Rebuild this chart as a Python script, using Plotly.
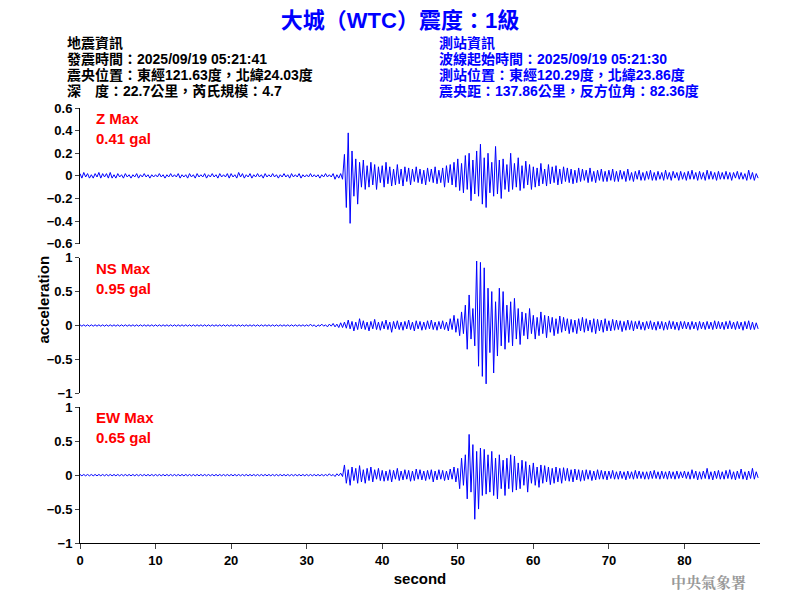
import plotly.graph_objects as go
from plotly.subplots import make_subplots

# sampled every 0.25 s, values in gal read from the record (one row = 5 s)
dt = 0.25
z_acc = [
    0.02,-0.02,0.03,-0.01,0.02,-0.02,0.01,-0.02,0.02,-0.01,0.03,-0.02,0.02,-0.01,0.02,-0.02,0.03,-0.02,0.01,-0.02,
    0.02,-0.01,0.01,-0.02,0.02,-0.01,0.01,-0.02,0.01,-0.01,0.02,-0.02,0.01,-0.01,0.02,-0.01,0.01,-0.02,0.01,-0.01,
    0.01,-0.01,0.02,-0.01,0.01,-0.02,0.01,-0.01,0.02,-0.01,0.01,-0.01,0.02,-0.02,0.01,-0.01,0.01,-0.02,0.02,-0.01,
    0.01,-0.02,0.02,-0.01,0.01,-0.01,0.02,-0.02,0.01,-0.01,0.02,-0.01,0.01,-0.02,0.02,-0.01,0.01,-0.01,0.02,-0.02,
    0.02,-0.01,0.01,-0.02,0.03,-0.01,0.02,-0.02,0.01,-0.01,0.02,-0.02,0.01,-0.01,0.02,-0.01,0.01,-0.02,0.02,-0.01,
    0.01,-0.01,0.02,-0.01,0.01,-0.02,0.01,-0.01,0.02,-0.01,0.01,-0.02,0.02,-0.01,0.01,-0.01,0.02,-0.02,0.01,-0.01,
    0.01,-0.01,0.02,-0.01,0.01,-0.01,0.01,-0.02,0.01,-0.01,0.02,-0.01,0.01,-0.01,0.02,-0.03,0.01,-0.02,0.02,-0.03,
    0.19,-0.28,0.38,-0.42,0.22,-0.18,0.15,-0.25,0.12,-0.1,0.14,-0.12,0.09,-0.1,0.12,-0.08,0.1,-0.12,0.08,-0.06,
    0.09,-0.1,0.12,-0.07,0.08,-0.09,0.06,-0.08,0.1,-0.07,0.06,-0.09,0.08,-0.05,0.07,-0.08,0.06,-0.05,0.08,-0.06,
    0.06,-0.07,0.05,-0.08,0.07,-0.05,0.06,-0.06,0.08,-0.07,0.05,-0.06,0.07,-0.1,0.09,-0.06,0.1,-0.08,0.12,-0.1,
    0.15,-0.13,0.11,-0.15,0.18,-0.12,0.2,-0.22,0.14,-0.16,0.22,-0.18,0.28,-0.25,0.16,-0.28,0.2,-0.15,0.12,-0.18,
    0.26,-0.16,0.14,-0.2,0.15,-0.12,0.1,-0.14,0.2,-0.12,0.11,-0.1,0.16,-0.13,0.09,-0.11,0.13,-0.08,0.1,-0.12,
    0.08,-0.1,0.07,-0.09,0.11,-0.07,0.06,-0.09,0.1,-0.07,0.08,-0.06,0.09,-0.08,0.06,-0.07,0.08,-0.05,0.07,-0.06,
    0.06,-0.07,0.05,-0.06,0.07,-0.05,0.06,-0.04,0.05,-0.06,0.07,-0.05,0.04,-0.06,0.05,-0.04,0.06,-0.05,0.04,-0.05,
    0.05,-0.04,0.06,-0.05,0.04,-0.05,0.05,-0.03,0.04,-0.05,0.06,-0.04,0.03,-0.05,0.04,-0.03,0.05,-0.04,0.03,-0.04,
    0.04,-0.03,0.05,-0.04,0.03,-0.04,0.04,-0.03,0.03,-0.04,0.05,-0.03,0.03,-0.04,0.04,-0.02,0.03,-0.04,0.04,-0.03,
    0.03,-0.04,0.04,-0.03,0.05,-0.03,0.03,-0.04,0.04,-0.03,0.03,-0.04,0.05,-0.03,0.04,-0.03,0.03,-0.04,0.04,-0.03,
    0.03,-0.03,0.04,-0.03,0.03,-0.04,0.03,-0.02,0.04,-0.03,0.03,-0.03,0.02,-0.04,0.05,-0.03,0.03,-0.04,0.02,-0.02,
]
ns_acc = [
    0.01,-0.01,0.01,-0.01,0.01,-0.01,0.01,-0.01,0.01,-0.01,0.01,-0.01,0.01,-0.01,0.01,-0.01,0.01,-0.01,0.01,-0.01,
    0.01,-0.01,0.01,-0.01,0.01,-0.01,0.01,-0.01,0.01,-0.01,0.01,-0.01,0.01,-0.01,0.01,-0.01,0.01,-0.01,0.01,-0.01,
    0.01,-0.01,0.01,-0.01,0.01,-0.01,0.01,-0.01,0.01,-0.01,0.01,-0.01,0.01,-0.01,0.01,-0.01,0.01,-0.01,0.01,-0.01,
    0.01,-0.01,0.01,-0.01,0.01,-0.01,0.01,-0.01,0.01,-0.01,0.01,-0.01,0.01,-0.01,0.01,-0.01,0.01,-0.01,0.01,-0.01,
    0.01,-0.01,0.01,-0.01,0.01,-0.01,0.01,-0.01,0.01,-0.01,0.01,-0.01,0.01,-0.01,0.01,-0.01,0.01,-0.01,0.01,-0.01,
    0.01,-0.01,0.01,-0.01,0.01,-0.01,0.01,-0.01,0.01,-0.01,0.01,-0.01,0.01,-0.01,0.01,-0.01,0.01,-0.01,0.01,-0.01,
    0.01,-0.01,0.02,-0.01,0.01,-0.02,0.01,-0.01,0.02,-0.01,0.01,-0.02,0.02,-0.01,0.03,-0.02,0.02,-0.03,0.04,-0.03,
    0.05,-0.04,0.08,-0.05,0.06,-0.08,0.05,-0.06,0.1,-0.05,0.07,-0.06,0.05,-0.08,0.06,-0.05,0.09,-0.06,0.05,-0.07,
    0.06,-0.05,0.08,-0.06,0.05,-0.1,0.06,-0.05,0.07,-0.06,0.05,-0.07,0.06,-0.05,0.08,-0.06,0.05,-0.08,0.07,-0.05,
    0.06,-0.07,0.05,-0.06,0.07,-0.05,0.08,-0.06,0.05,-0.07,0.06,-0.05,0.07,-0.06,0.05,-0.08,0.1,-0.06,0.15,-0.1,
    0.1,-0.15,0.2,-0.12,0.3,-0.35,0.45,-0.2,0.25,-0.3,0.95,-0.6,0.93,-0.75,0.85,-0.86,0.55,-0.4,0.5,-0.7,
    0.35,-0.45,0.55,-0.3,0.5,-0.35,0.3,-0.25,0.35,-0.3,0.4,-0.2,0.25,-0.28,0.2,-0.15,0.18,-0.2,0.25,-0.12,
    0.15,-0.2,0.12,-0.15,0.2,-0.12,0.15,-0.18,0.14,-0.1,0.12,-0.15,0.1,-0.12,0.14,-0.1,0.12,-0.08,0.1,-0.12,
    0.09,-0.1,0.08,-0.12,0.1,-0.08,0.12,-0.1,0.1,-0.08,0.08,-0.1,0.1,-0.12,0.09,-0.08,0.08,-0.1,0.1,-0.08,
    0.07,-0.08,0.09,-0.07,0.08,-0.06,0.07,-0.09,0.06,-0.07,0.08,-0.06,0.07,-0.08,0.06,-0.05,0.07,-0.06,0.05,-0.07,
    0.06,-0.05,0.07,-0.06,0.05,-0.07,0.06,-0.05,0.06,-0.07,0.05,-0.06,0.07,-0.05,0.06,-0.06,0.05,-0.07,0.06,-0.05,
    0.06,-0.05,0.05,-0.06,0.06,-0.05,0.05,-0.07,0.06,-0.05,0.05,-0.06,0.06,-0.05,0.05,-0.06,0.07,-0.05,0.06,-0.05,
    0.05,-0.06,0.06,-0.05,0.07,-0.05,0.05,-0.06,0.06,-0.05,0.05,-0.07,0.06,-0.05,0.07,-0.06,0.05,-0.06,0.04,-0.05,
]
ew_acc = [
    0.01,-0.01,0.01,-0.01,0.01,-0.01,0.01,-0.01,0.01,-0.01,0.01,-0.01,0.01,-0.01,0.01,-0.01,0.01,-0.01,0.01,-0.01,
    0.01,-0.01,0.01,-0.01,0.01,-0.01,0.01,-0.01,0.01,-0.01,0.01,-0.01,0.01,-0.01,0.01,-0.01,0.01,-0.01,0.01,-0.01,
    0.01,-0.01,0.01,-0.01,0.01,-0.01,0.01,-0.01,0.01,-0.01,0.01,-0.01,0.01,-0.01,0.01,-0.01,0.01,-0.01,0.01,-0.01,
    0.01,-0.01,0.01,-0.01,0.01,-0.01,0.01,-0.01,0.01,-0.01,0.01,-0.01,0.01,-0.01,0.01,-0.01,0.01,-0.01,0.01,-0.01,
    0.01,-0.01,0.01,-0.01,0.01,-0.01,0.01,-0.01,0.01,-0.01,0.01,-0.01,0.01,-0.01,0.01,-0.01,0.01,-0.01,0.01,-0.01,
    0.01,-0.01,0.01,-0.01,0.01,-0.01,0.01,-0.01,0.01,-0.01,0.01,-0.01,0.01,-0.01,0.01,-0.01,0.01,-0.01,0.01,-0.01,
    0.01,-0.01,0.01,-0.01,0.01,-0.01,0.01,-0.01,0.01,-0.01,0.01,-0.01,0.02,-0.01,0.01,-0.02,0.02,-0.01,0.03,-0.02,
    0.15,-0.12,0.08,-0.15,0.12,-0.08,0.1,-0.12,0.14,-0.1,0.08,-0.12,0.1,-0.08,0.12,-0.1,0.08,-0.06,0.1,-0.08,
    0.07,-0.09,0.06,-0.08,0.08,-0.1,0.07,-0.06,0.1,-0.08,0.06,-0.07,0.08,-0.06,0.07,-0.09,0.06,-0.08,0.09,-0.06,
    0.08,-0.07,0.06,-0.08,0.07,-0.06,0.08,-0.1,0.06,-0.07,0.08,-0.06,0.07,-0.08,0.06,-0.07,0.09,-0.06,0.12,-0.1,
    0.1,-0.2,0.25,-0.15,0.3,-0.35,0.6,-0.25,0.45,-0.65,0.35,-0.5,0.4,-0.3,0.38,-0.28,0.3,-0.25,0.35,-0.3,
    0.25,-0.35,0.3,-0.2,0.22,-0.3,0.25,-0.2,0.3,-0.25,0.28,-0.22,0.18,-0.2,0.22,-0.15,0.2,-0.25,0.15,-0.12,
    0.18,-0.15,0.12,-0.18,0.15,-0.12,0.14,-0.1,0.12,-0.14,0.1,-0.12,0.12,-0.1,0.1,-0.12,0.11,-0.08,0.1,-0.09,
    0.08,-0.1,0.09,-0.07,0.08,-0.09,0.07,-0.08,0.08,-0.06,0.07,-0.08,0.06,-0.07,0.08,-0.06,0.07,-0.06,0.06,-0.07,
    0.06,-0.05,0.07,-0.06,0.05,-0.06,0.06,-0.05,0.05,-0.07,0.06,-0.05,0.05,-0.06,0.07,-0.05,0.06,-0.05,0.05,-0.06,
    0.05,-0.06,0.06,-0.05,0.07,-0.05,0.05,-0.06,0.06,-0.05,0.05,-0.06,0.06,-0.05,0.05,-0.06,0.06,-0.05,0.05,-0.04,
    0.06,-0.05,0.05,-0.06,0.08,-0.05,0.06,-0.07,0.05,-0.06,0.06,-0.05,0.1,-0.06,0.05,-0.07,0.06,-0.05,0.07,-0.06,
    0.05,-0.06,0.07,-0.05,0.08,-0.06,0.05,-0.07,0.06,-0.05,0.09,-0.06,0.05,-0.07,0.06,-0.05,0.1,-0.06,0.05,-0.04,
]
t = [i * dt for i in range(len(z_acc))]

channels = ["Z", "NS", "EW"]
max_gal = ["0.41", "0.95", "0.65"]
y_ranges = [[-0.6, 0.6], [-1, 1], [-1, 1]]
y_ticks = [[-0.6, -0.4, -0.2, 0, 0.2, 0.4, 0.6], [-1, -0.5, 0, 0.5, 1], [-1, -0.5, 0, 0.5, 1]]

left_info = ["地震資訊", "發震時間：2025/09/19 05:21:41",
             "震央位置：東經121.63度，北緯24.03度", "深　度：22.7公里，芮氏規模：4.7"]
right_info = ["測站資訊", "波線起始時間：2025/09/19 05:21:30",
              "測站位置：東經120.29度，北緯23.86度", "震央距：137.86公里，反方位角：82.36度"]

# the page adds an 8px offset, so all pixel positions are shifted back by 8
OFF = 8
L, R, T, B = 80 - OFF, 760 - OFF, 108 - OFF, 543 - OFF

def px_x(x):
    return (x - OFF - L) / (R - L)

def px_y(y):
    return (B - (y - OFF)) / (B - T)

fig = make_subplots(rows=3, cols=1, shared_xaxes=True, vertical_spacing=0.032)
for i, acc in enumerate([z_acc, ns_acc, ew_acc]):
    fig.add_trace(go.Scatter(x=t, y=acc, mode="lines", line=dict(color="#0000ff", width=1),
                             showlegend=False), row=i + 1, col=1)
    fig.update_yaxes(range=y_ranges[i], tickvals=y_ticks[i], row=i + 1, col=1)
    yref = "y domain" if i == 0 else f"y{i + 1} domain"
    fig.add_annotation(x=0.02, y=1.0, xref="x domain", yref=yref, xanchor="left", yanchor="top",
                       text=f"<b>{channels[i]} Max<br>{max_gal[i]} gal</b>", showarrow=False, align="left",
                       font=dict(color="red", size=15))

fig.update_yaxes(showline=True, linecolor="black", linewidth=1, ticks="outside", ticklen=4,
                 showgrid=False, zeroline=False, automargin=False,
                 tickfont=dict(size=13, color="black", weight="bold"))
fig.update_xaxes(showgrid=False, zeroline=False, range=[0, 90], tickvals=list(range(0, 90, 10)),
                 showline=False, automargin=False)
fig.update_xaxes(showline=True, linecolor="black", ticks="outside", ticklen=5,
                 tickfont=dict(size=13, color="black", weight="bold"),
                 title=dict(text="<b>second</b>", font=dict(size=15), standoff=6),
                 row=3, col=1)

for k in range(4):
    for px, txt, col in [(65, left_info[k], "black"), (437, right_info[k], "#0000ff")]:
        fig.add_annotation(x=px_x(px), y=px_y(43 + 16 * k), xref="paper", yref="paper",
                           text=f"<b>{txt}</b>", showarrow=False, xanchor="left", yanchor="middle",
                           font=dict(size=14, color=col))

fig.add_annotation(x=px_x(32), y=px_y(300), xref="paper", yref="paper",
                   text="<b>acceleration</b>", textangle=-90, showarrow=False, font=dict(size=15))
fig.add_annotation(x=px_x(748), y=px_y(581), xref="paper", yref="paper",
                   text="<b>中央氣象署</b>", showarrow=False, xanchor="right", yanchor="middle",
                   font=dict(size=15, color="#999999", family="Noto Serif CJK TC, serif"))

fig.update_layout(
    width=800, height=600, margin=dict(l=L, r=800 - R, t=T, b=600 - B, autoexpand=False),
    paper_bgcolor="white", plot_bgcolor="white",
    font=dict(family="Liberation Sans, Noto Sans CJK TC, sans-serif", color="black"),
    title=dict(text="<b>大城（WTC）震度：1級</b>", x=(400 - OFF) / 800, y=1 - (20 - OFF) / 600,
               xanchor="center", yanchor="middle", font=dict(size=22, color="#0000ff")),
)
fig.write_html("out.html")
